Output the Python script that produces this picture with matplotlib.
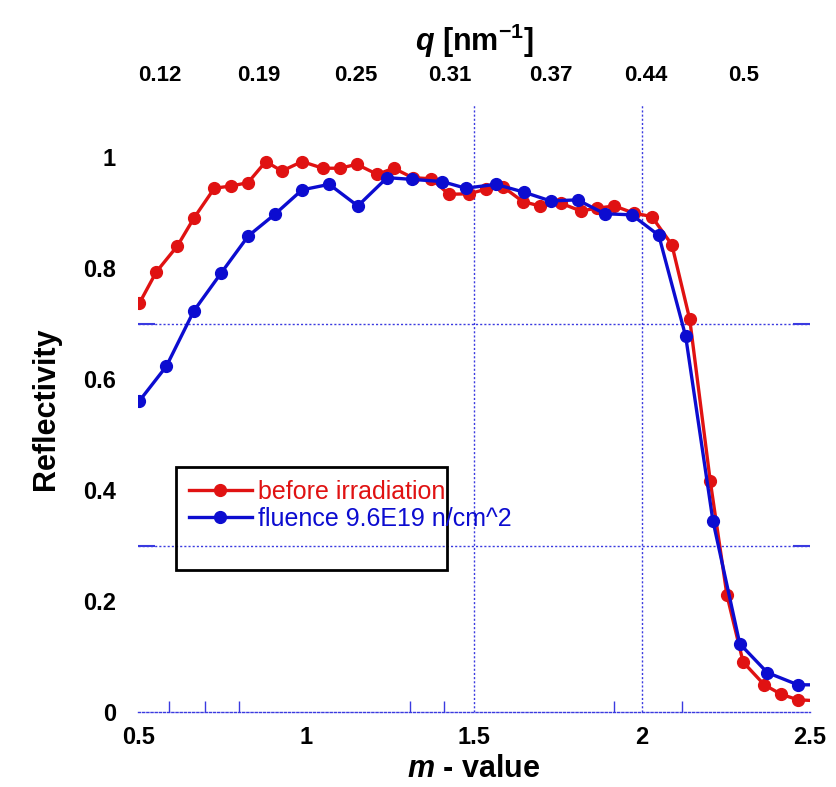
import numpy as np
import matplotlib
matplotlib.use("Agg")
import matplotlib.pyplot as plt
from matplotlib.patches import Rectangle

plt.rcParams['font.family'] = ['Liberation Sans', 'DejaVu Sans']
plt.rcParams['mathtext.fontset'] = 'custom'
plt.rcParams['mathtext.it'] = 'Liberation Sans:italic:bold'
plt.rcParams['mathtext.rm'] = 'Liberation Sans:bold'

# before irradiation
m_red = [0.504, 0.554, 0.617, 0.667, 0.727, 0.777, 0.827, 0.880, 0.928, 0.988,
         1.050, 1.100, 1.151, 1.212, 1.261, 1.317, 1.373, 1.425, 1.485, 1.535,
         1.585, 1.645, 1.696, 1.758, 1.818, 1.866, 1.918, 1.976, 2.029, 2.089,
         2.142, 2.203, 2.253, 2.301, 2.364, 2.414, 2.464, 2.53]
r_red = [0.737, 0.793, 0.840, 0.891, 0.944, 0.948, 0.954, 0.992, 0.975, 0.992,
         0.980, 0.980, 0.987, 0.969, 0.980, 0.963, 0.961, 0.933, 0.934, 0.942,
         0.947, 0.920, 0.912, 0.917, 0.903, 0.908, 0.912, 0.899, 0.893, 0.842,
         0.708, 0.417, 0.210, 0.090, 0.049, 0.032, 0.022, 0.020]

# fluence 9.6E19 n/cm^2
m_blue = [0.503, 0.584, 0.666, 0.747, 0.828, 0.907, 0.988, 1.069, 1.154, 1.241,
          1.314, 1.405, 1.475, 1.565, 1.648, 1.728, 1.808, 1.889, 1.970, 2.050,
          2.130, 2.211, 2.291, 2.373, 2.464, 2.545]
r_blue = [0.560, 0.623, 0.723, 0.791, 0.858, 0.897, 0.941, 0.951, 0.912, 0.963,
          0.960, 0.956, 0.944, 0.951, 0.937, 0.921, 0.923, 0.898, 0.896, 0.859,
          0.677, 0.345, 0.123, 0.071, 0.049, 0.049]

# top axis q [nm^-1]
q_pos = [0.566, 0.858, 1.148, 1.428, 1.729, 2.012, 2.304]
q_labels = ['0.12', '0.19', '0.25', '0.31', '0.37', '0.44', '0.5']
q_marks = [0.566, 1.148, 1.729]

x_minor = [0.593, 0.699, 0.801, 1.31, 1.41, 1.5, 1.916, 2.0, 2.12]

red = '#e01212'
blue = '#0c0cd0'
gridc = '#3a3ae0'

fig = plt.figure(figsize=(8.37, 7.87), dpi=100)
ax = fig.add_axes([0.165, 0.0953, 0.8027, 0.7713])

ax.plot(m_red, r_red, color=red, lw=2.4, marker='o', ms=8.5,
        label='before irradiation')
ax.plot(m_blue, r_blue, color=blue, lw=2.4, marker='o', ms=8.5,
        label='fluence 9.6E19 n/cm^2')

ax.set_xlim(0.5, 2.5)
ax.set_ylim(0, 1.094)

for yv in [0.3, 0.7]:
    ax.axhline(yv, color=gridc, lw=1, ls=(0, (1.5, 1.5)), zorder=0)
for xv in [1.5, 2.0]:
    ax.axvline(xv, color=gridc, lw=1, ls=(0, (1.5, 1.5)), zorder=0)

for s in ['top', 'left', 'right']:
    ax.spines[s].set_visible(False)
ax.spines['bottom'].set_color(gridc)
ax.spines['bottom'].set_linestyle((0, (1.5, 1.5)))
ax.spines['bottom'].set_linewidth(1)

ax.set_xticks([0.5, 1, 1.5, 2, 2.5])
ax.set_xticklabels(['0.5', '1', '1.5', '2', '2.5'])
ax.set_xticks(x_minor, minor=True)
ax.set_yticks([0, 0.2, 0.4, 0.6, 0.8, 1.0])
ax.set_yticklabels(['0', '0.2', '0.4', '0.6', '0.8', '1'])
ax.set_yticks([0.3, 0.7], minor=True)

ax.tick_params(axis='both', which='major', length=0, labelsize=17)
ax.tick_params(axis='x', which='major', pad=10)
ax.tick_params(axis='y', which='major', pad=16)
ax.tick_params(axis='x', which='minor', direction='in', length=8,
               color=gridc, width=1)
ax.tick_params(axis='y', which='minor', direction='in', length=12,
               color=gridc, width=1.5, left=True, right=True)
for lab in ax.get_xticklabels() + ax.get_yticklabels():
    lab.set_fontweight('bold')

ax.set_xlabel('$m$ - value', fontsize=22, fontweight='bold', labelpad=4)
ax.set_ylabel('Reflectivity', fontsize=22, fontweight='bold', labelpad=16)

# top q axis
ax2 = ax.twiny()
ax2.set_xlim(ax.get_xlim())
for s in ax2.spines.values():
    s.set_visible(False)
ax2.set_xticks(q_pos)
ax2.set_xticklabels(q_labels)
ax2.set_xticks(q_marks, minor=True)
ax2.tick_params(axis='x', which='major', length=0, labelsize=16, pad=14)
ax2.tick_params(axis='x', which='minor', direction='in', length=10,
                color=gridc, width=1)
for lab in ax2.get_xticklabels():
    lab.set_fontweight('bold')
ax2.set_xlabel('$q$ [nm$^{\\mathrm{-1}}$]', fontsize=22,
               fontweight='bold', labelpad=10)

# legend with its taller frame
ax.add_patch(Rectangle((0.0565, 0.2342), 0.4035, 0.1688,
                       transform=ax.transAxes, fill=False, ec='black',
                       lw=2, zorder=5))
leg = ax.legend(loc='upper left', bbox_to_anchor=(0.0759, 0.382),
                frameon=False, fontsize=18, handlelength=2.5,
                handletextpad=0.25, labelspacing=0.12, borderaxespad=0,
                borderpad=0)
for txt, c in zip(leg.get_texts(), [red, blue]):
    txt.set_color(c)

fig.savefig('out.png', dpi=100)
